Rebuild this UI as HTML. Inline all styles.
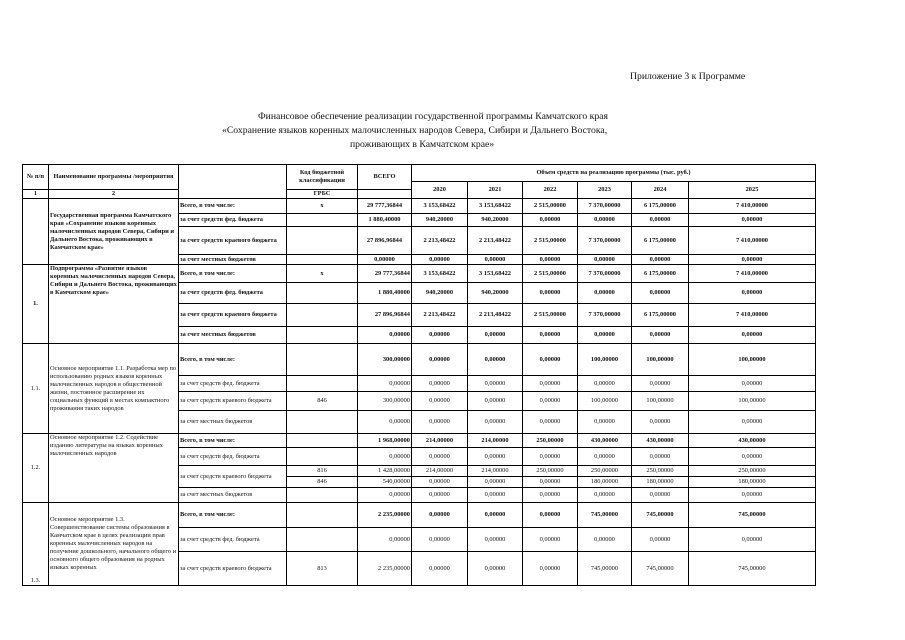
<!DOCTYPE html>
<html><head><meta charset="utf-8"><style>
body{margin:0;width:905px;height:640px;background:#fff;position:relative;overflow:hidden;font-family:"Liberation Serif",serif;color:#111}
.t{position:absolute;font-size:9.7px;white-space:nowrap}
table{position:absolute;left:22px;top:164px;border-collapse:collapse;table-layout:fixed;font-size:6.4px;font-weight:bold}
td{border:1px solid #000;padding:0 1px;overflow:hidden;line-height:8px;text-align:center;vertical-align:middle}
td.l{text-align:left}
td.r{text-align:right}
td.n{font-weight:normal}
</style></head><body>
<div class="t" style="left:630px;top:71px">Приложение 3 к Программе</div>
<div class="t" style="left:258px;top:111px">Финансовое обеспечение реализации государственной программы Камчатского края</div>
<div class="t" style="left:222px;top:125px">«Сохранение языков коренных малочисленных народов Севера, Сибири и Дальнего Востока,</div>
<div class="t" style="left:350px;top:139px">проживающих в Камчатском крае»</div>
<table>
<colgroup><col style="width:26px"><col style="width:130px"><col style="width:108px"><col style="width:71px"><col style="width:54px"><col style="width:56px"><col style="width:55px"><col style="width:55px"><col style="width:54px"><col style="width:57px"><col style="width:127px"></colgroup>
<tr style="height:17px"><td rowspan="2">№ п/п</td><td rowspan="2">Наименование программы /мероприятия</td><td rowspan="3"></td><td rowspan="2">Код бюджетной классификации</td><td rowspan="2">ВСЕГО</td><td colspan="6">Объем средств на реализацию программы (тыс. руб.)</td></tr>
<tr style="height:8px"><td rowspan="2">2020</td><td rowspan="2">2021</td><td rowspan="2">2022</td><td rowspan="2">2023</td><td rowspan="2">2024</td><td rowspan="2">2025</td></tr>
<tr style="height:9px"><td>1</td><td>2</td><td>ГРБС</td><td></td></tr>

<tr style="height:15px"><td rowspan="4"></td><td rowspan="4" class="l">Государственная программа Камчатского края «Сохранение языков коренных малочисленных народов Севера, Сибири и Дальнего Востока, проживающих в Камчатском крае»</td><td class="l">Всего, в том числе:</td><td>х</td><td>29 777,36844</td><td>3 153,68422</td><td>3 153,68422</td><td>2 515,00000</td><td>7 370,00000</td><td>6 175,00000</td><td>7 410,00000</td></tr>
<tr style="height:13px"><td class="l">за счет средств фед. бюджета</td><td></td><td>1 880,40000</td><td>940,20000</td><td>940,20000</td><td>0,00000</td><td>0,00000</td><td>0,00000</td><td>0,00000</td></tr>
<tr style="height:28px"><td class="l">за счет средств краевого бюджета</td><td></td><td>27 896,96844</td><td>2 213,48422</td><td>2 213,48422</td><td>2 515,00000</td><td>7 370,00000</td><td>6 175,00000</td><td>7 410,00000</td></tr>
<tr style="height:10px"><td class="l">за счет местных бюджетов</td><td></td><td>0,00000</td><td>0,00000</td><td>0,00000</td><td>0,00000</td><td>0,00000</td><td>0,00000</td><td>0,00000</td></tr>

<tr style="height:18px"><td rowspan="4">1.</td><td rowspan="4" class="l" style="vertical-align:top">Подпрограмма «Развитие языков коренных малочисленных народов Севера, Сибири и Дальнего Востока, проживающих в Камчатском крае»</td><td class="l">Всего, в том числе:</td><td>х</td><td class="r">29 777,36844</td><td>3 153,68422</td><td>3 153,68422</td><td>2 515,00000</td><td>7 370,00000</td><td>6 175,00000</td><td>7 410,00000</td></tr>
<tr style="height:21px"><td class="l">за счет средств фед. бюджета</td><td></td><td class="r">1 880,40000</td><td>940,20000</td><td>940,20000</td><td>0,00000</td><td>0,00000</td><td>0,00000</td><td>0,00000</td></tr>
<tr style="height:23px"><td class="l">за счет средств краевого бюджета</td><td></td><td class="r">27 896,96844</td><td>2 213,48422</td><td>2 213,48422</td><td>2 515,00000</td><td>7 370,00000</td><td>6 175,00000</td><td>7 410,00000</td></tr>
<tr style="height:17px"><td class="l">за счет местных бюджетов</td><td></td><td class="r">0,00000</td><td>0,00000</td><td>0,00000</td><td>0,00000</td><td>0,00000</td><td>0,00000</td><td>0,00000</td></tr>

<tr style="height:32px"><td rowspan="4" class="n">1.1.</td><td rowspan="4" class="l n">Основное мероприятие 1.1. Разработка мер по использованию родных языков коренных малочисленных народов в общественной жизни, постоянное расширение их социальных функций в местах компактного проживания таких народов</td><td class="l">Всего, в том числе:</td><td></td><td class="r">300,00000</td><td>0,00000</td><td>0,00000</td><td>0,00000</td><td>100,00000</td><td>100,00000</td><td>100,00000</td></tr>
<tr style="height:16px"><td class="l n">за счет средств фед. бюджета</td><td></td><td class="r n">0,00000</td><td class="n">0,00000</td><td class="n">0,00000</td><td class="n">0,00000</td><td class="n">0,00000</td><td class="n">0,00000</td><td class="n">0,00000</td></tr>
<tr style="height:19px"><td class="l n">за счет средств краевого бюджета</td><td class="n">846</td><td class="r n">300,00000</td><td class="n">0,00000</td><td class="n">0,00000</td><td class="n">0,00000</td><td class="n">100,00000</td><td class="n">100,00000</td><td class="n">100,00000</td></tr>
<tr style="height:23px"><td class="l n">за счет местных бюджетов</td><td></td><td class="r n">0,00000</td><td class="n">0,00000</td><td class="n">0,00000</td><td class="n">0,00000</td><td class="n">0,00000</td><td class="n">0,00000</td><td class="n">0,00000</td></tr>

<tr style="height:14px"><td rowspan="5" class="n">1.2.</td><td rowspan="5" class="l n" style="vertical-align:top">Основное мероприятие 1.2. Содействие изданию литературы на языках коренных малочисленных народов</td><td class="l">Всего, в том числе:</td><td></td><td class="r">1 968,00000</td><td>214,00000</td><td>214,00000</td><td>250,00000</td><td>430,00000</td><td>430,00000</td><td>430,00000</td></tr>
<tr style="height:18px"><td class="l n">за счет средств фед. бюджета</td><td></td><td class="r n">0,00000</td><td class="n">0,00000</td><td class="n">0,00000</td><td class="n">0,00000</td><td class="n">0,00000</td><td class="n">0,00000</td><td class="n">0,00000</td></tr>
<tr style="height:11px"><td rowspan="2" class="l n">за счет средств краевого бюджета</td><td class="n">816</td><td class="r n">1 428,00000</td><td class="n">214,00000</td><td class="n">214,00000</td><td class="n">250,00000</td><td class="n">250,00000</td><td class="n">250,00000</td><td class="n">250,00000</td></tr>
<tr style="height:11px"><td class="n">846</td><td class="r n">540,00000</td><td class="n">0,00000</td><td class="n">0,00000</td><td class="n">0,00000</td><td class="n">180,00000</td><td class="n">180,00000</td><td class="n">180,00000</td></tr>
<tr style="height:15px"><td class="l n">за счет местных бюджетов</td><td></td><td class="r n">0,00000</td><td class="n">0,00000</td><td class="n">0,00000</td><td class="n">0,00000</td><td class="n">0,00000</td><td class="n">0,00000</td><td class="n">0,00000</td></tr>

<tr style="height:25px"><td rowspan="3" class="n" style="vertical-align:bottom">1.3.</td><td rowspan="3" class="l n">Основное мероприятие 1.3. Совершенствование системы образования в Камчатском крае в целях реализации прав коренных малочисленных народов на получение дошкольного, начального общего и основного общего образования на родных языках коренных</td><td class="l">Всего, в том числе:</td><td></td><td class="r">2 235,00000</td><td>0,00000</td><td>0,00000</td><td>0,00000</td><td>745,00000</td><td>745,00000</td><td>745,00000</td></tr>
<tr style="height:24px"><td class="l n">за счет средств фед. бюджета</td><td></td><td class="r n">0,00000</td><td class="n">0,00000</td><td class="n">0,00000</td><td class="n">0,00000</td><td class="n">0,00000</td><td class="n">0,00000</td><td class="n">0,00000</td></tr>
<tr style="height:34px"><td class="l n">за счет средств краевого бюджета</td><td class="n">813</td><td class="r n">2 235,00000</td><td class="n">0,00000</td><td class="n">0,00000</td><td class="n">0,00000</td><td class="n">745,00000</td><td class="n">745,00000</td><td class="n">745,00000</td></tr>
</table>
</body></html>
